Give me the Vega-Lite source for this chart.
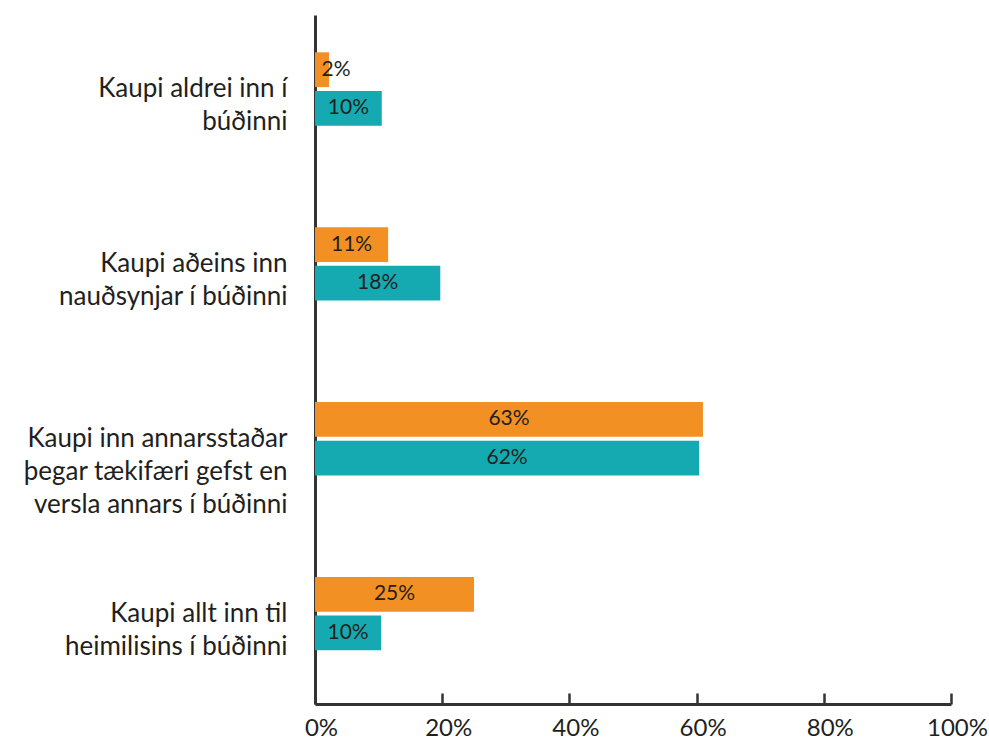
{
  "$schema": "https://vega.github.io/schema/vega-lite/v6.json",
  "width": 636,
  "height": 689,
  "autosize": {"type": "none"},
  "padding": {"left": 315, "top": 15, "right": 38, "bottom": 35},
  "background": "white",
  "config": {"view": {"stroke": null}, "font": "Lato"},
  "data": {
    "values": [
      {"category": "Kaupi aldrei inn í|búðinni", "series": "Röð 1", "value": 2.2, "label": "2%"},
      {"category": "Kaupi aldrei inn í|búðinni", "series": "Röð 2", "value": 10.5, "label": "10%"},
      {"category": "Kaupi aðeins inn|nauðsynjar í búðinni", "series": "Röð 1", "value": 11.5, "label": "11%"},
      {"category": "Kaupi aðeins inn|nauðsynjar í búðinni", "series": "Röð 2", "value": 19.7, "label": "18%"},
      {"category": "Kaupi inn annarsstaðar|þegar tækifæri gefst en|versla annars í búðinni", "series": "Röð 1", "value": 61.0, "label": "63%"},
      {"category": "Kaupi inn annarsstaðar|þegar tækifæri gefst en|versla annars í búðinni", "series": "Röð 2", "value": 60.4, "label": "62%"},
      {"category": "Kaupi allt inn til|heimilisins í búðinni", "series": "Röð 1", "value": 25.0, "label": "25%"},
      {"category": "Kaupi allt inn til|heimilisins í búðinni", "series": "Röð 2", "value": 10.4, "label": "10%"}
    ]
  },
  "transform": [{"calculate": "max(datum.value / 2, 3.3)", "as": "labelPos"}],
  "encoding": {
    "y": {
      "field": "category",
      "type": "nominal",
      "sort": null,
      "scale": {"paddingInner": 0.58, "paddingOuter": 0.26, "align": 0.41},
      "axis": {
        "title": null,
        "labelExpr": "split(datum.label, '|')",
        "labelFontSize": 26,
        "labelLineHeight": 33,
        "labelColor": "#231F20",
        "labelPadding": 28,
        "labelLimit": 320,
        "ticks": false,
        "domainColor": "#333333",
        "domainWidth": 3,
        "grid": false
      }
    },
    "yOffset": {"field": "series", "type": "nominal", "scale": {"paddingInner": 0.1}}
  },
  "layer": [
    {
      "mark": {"type": "bar"},
      "encoding": {
        "x": {
          "field": "value",
          "type": "quantitative",
          "scale": {"domain": [0, 100], "nice": false},
          "axis": {
            "title": null,
            "values": [0, 20, 40, 60, 80, 100],
            "labelExpr": "datum.value + '%'",
            "labelFontSize": 24,
            "labelColor": "#231F20",
            "labelFlush": false,
            "labelOverlap": false,
            "labelOffset": 6,
            "tickSize": -11,
            "tickWidth": 2.5,
            "tickColor": "#333333",
            "labelPadding": 23,
            "domainColor": "#333333",
            "domainWidth": 3,
            "grid": false
          }
        },
        "color": {
          "field": "series",
          "type": "nominal",
          "scale": {"domain": ["Röð 1", "Röð 2"], "range": ["#F29023", "#15AAB1"]},
          "legend": null
        }
      }
    },
    {
      "mark": {"type": "text", "fontSize": 21, "color": "#231F20", "align": "center", "baseline": "middle"},
      "encoding": {
        "x": {"field": "labelPos", "type": "quantitative"},
        "text": {"field": "label"}
      }
    }
  ]
}
